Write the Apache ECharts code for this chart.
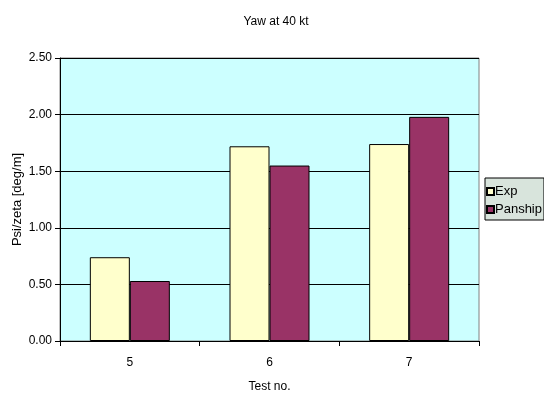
<!DOCTYPE html>
<html>
<head>
<meta charset="utf-8">
<script src="https://cdn.jsdelivr.net/npm/echarts@6/dist/echarts.min.js"></script>
<style>
  html, body { margin: 0; padding: 0; background: #fff; }
  #chart { width: 544px; height: 395px; }
</style>
</head>
<body>
<div id="chart"></div>
<script>
// Yaw response per test, experiment vs. Panship prediction
const categories = ['5', '6', '7'];
const expValues = [0.74, 1.72, 1.74];
const panshipValues = [0.53, 1.55, 1.98];
const yTicks = { min: 0, max: 2.5, step: 0.5 };

const font = '"Liberation Sans", Arial, sans-serif';
const chart = echarts.init(document.getElementById('chart'), null, { renderer: 'canvas' });

chart.setOption({
  animation: false,
  title: {
    text: 'Yaw at 40 kt',
    left: 271, top: 11, textAlign: 'center',
    textStyle: { fontFamily: font, fontSize: 12, fontWeight: 'normal', color: '#000' }
  },
  legend: {
    orient: 'vertical',
    left: 485, top: 178,
    itemWidth: 7, itemHeight: 7, itemGap: 5,
    padding: [7, 2, 4, 1],
    backgroundColor: '#d8e4dc',
    borderColor: '#000', borderWidth: 1,
    icon: 'rect',
    textStyle: { fontFamily: font, fontSize: 13, color: '#000', padding: [0, 0, 0, -4] },
    data: ['Exp', 'Panship']
  },
  grid: {
    left: 60, right: 65, top: 58, bottom: 54,
    containLabel: false, outerBoundsMode: 'none',
    show: true, backgroundColor: '#ccffff', borderColor: '#808080', borderWidth: 1
  },
  xAxis: {
    type: 'category',
    data: categories,
    name: 'Test no.',
    nameLocation: 'middle', nameGap: 40,
    nameTextStyle: { fontFamily: font, fontSize: 12, color: '#000' },
    axisLine: { lineStyle: { color: '#000' } },
    axisTick: { show: true, length: 5, lineStyle: { color: '#000' } },
    axisLabel: { fontFamily: font, fontSize: 12, color: '#000', margin: 16 }
  },
  yAxis: {
    type: 'value',
    min: yTicks.min, max: yTicks.max, interval: yTicks.step,
    name: 'Psi/zeta [deg/m]',
    nameLocation: 'middle', nameGap: 36, nameMoveOverlap: false,
    nameTextStyle: { fontFamily: font, fontSize: 13, color: '#000' },
    axisLine: { show: true, lineStyle: { color: '#000' } },
    axisTick: { show: true, length: 5, lineStyle: { color: '#000' } },
    axisLabel: { fontFamily: font, fontSize: 12, color: '#000', margin: 8,
                 formatter: v => v.toFixed(2) },
    splitLine: { show: true, lineStyle: { color: '#000', width: 1 } }
  },
  series: [
    {
      name: 'Exp', type: 'bar', data: expValues,
      barWidth: 40, barGap: '0%',
      itemStyle: { color: '#ffffcc', borderColor: '#000', borderWidth: 1 }
    },
    {
      name: 'Panship', type: 'bar', data: panshipValues,
      barWidth: 40,
      itemStyle: { color: '#993366', borderColor: '#000', borderWidth: 1 }
    }
  ]
});
</script>
</body>
</html>
